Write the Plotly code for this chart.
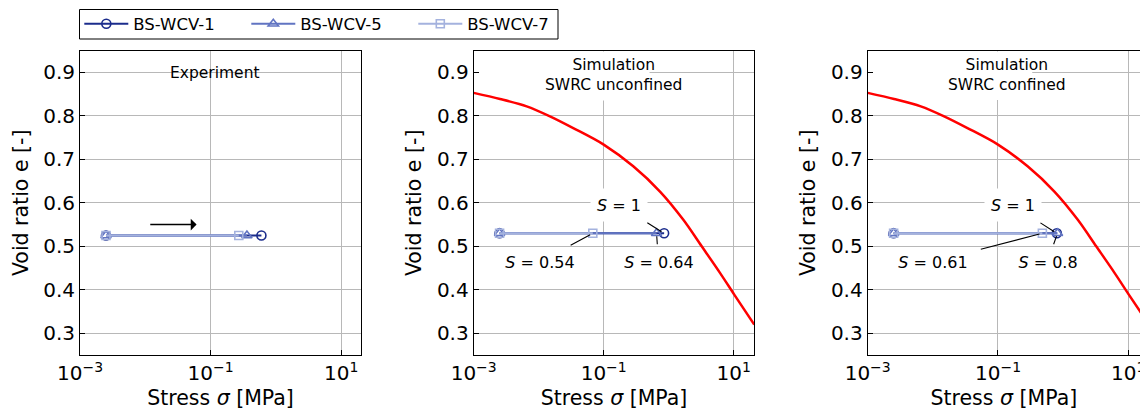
import numpy as np
import plotly.graph_objects as go

W, H = 1140, 410

# ---------------- data ----------------
series_names = ["BS-WCV-1", "BS-WCV-5", "BS-WCV-7"]
series_colors = ["#1b2c8c", "#6174c2", "#a4b2de"]
series_symbols = ["circle-open", "triangle-up-open", "square-open"]
series_marker_sizes = [9, 9, 8]

start_stress = 0.0025                     # MPa, common start of all paths
exp_end_stress = [0.60, 0.36, 0.27]       # experiment
exp_void = 0.525
unconf_end_stress = [0.85, 0.65, 0.068]   # simulation, SWRC unconfined
unconf_void = 0.53
conf_end_stress = [0.80, 0.82, 0.48]      # simulation, SWRC confined
conf_void = 0.53

curve_stress = [0.001, 0.00254, 0.00653, 0.0149, 0.034, 0.1, 0.285, 0.735,
                1.68, 3.22, 6.15, 10.2, 20.7]
curve_void = [0.853, 0.839, 0.822, 0.799, 0.772, 0.734, 0.684, 0.626,
              0.561, 0.500, 0.439, 0.389, 0.320]

arrow_stress = [0.0113, 0.061]
arrow_void = 0.55

unconf_labels = ["<i>S</i> = 1", "<i>S</i> = 0.64", "<i>S</i> = 0.54"]
conf_labels = ["<i>S</i> = 1", "<i>S</i> = 0.8", "<i>S</i> = 0.61"]
panel_titles = ["Experiment", "Simulation<br>SWRC unconfined", "Simulation<br>SWRC confined"]

x_tickvals = [1e-3, 1e-1, 1e1]
x_ticktext = ["10<sup>−3</sup>", "10<sup>−1</sup>", "10<sup>1</sup>"]
y_tickvals = [0.3, 0.4, 0.5, 0.6, 0.7, 0.8, 0.9]
y_range = [0.25, 0.95]

# ---------------- layout geometry ----------------
FONT = "DejaVu Sans"
px_dom = [(80, 361), (473.7, 754.3), (867.7, 1140)]
x_ranges = [[-3, 1.303], [-3, 1.317], [-3, 1.18]]
PY_TOP, PY_BOT = 50.7, 355
y_dom = [1 - PY_BOT / H, 1 - PY_TOP / H]


def px_to_xlog(p, px):
    dom, rng = px_dom[p], x_ranges[p]
    return rng[0] + (px - dom[0]) / (dom[1] - dom[0]) * (rng[1] - rng[0])


def py_to_y(py):
    return y_range[1] - (py - PY_TOP) / (PY_BOT - PY_TOP) * (y_range[1] - y_range[0])


fig = go.Figure()

panels = [
    (exp_end_stress, exp_void),
    (unconf_end_stress, unconf_void),
    (conf_end_stress, conf_void),
]

for p, (ends, void) in enumerate(panels):
    xa = "x" if p == 0 else f"x{p+1}"
    ya = "y" if p == 0 else f"y{p+1}"
    if p > 0:
        fig.add_trace(go.Scatter(
            x=curve_stress, y=curve_void, mode="lines",
            line=dict(color="red", width=2.5, shape="spline", smoothing=0.9),
            showlegend=False, xaxis=xa, yaxis=ya, hoverinfo="skip"))
    for i in range(3):
        fig.add_trace(go.Scatter(
            x=[start_stress, ends[i]], y=[void, void],
            mode="lines+markers", name=series_names[i],
            legendgroup=series_names[i], showlegend=(p == 0),
            line=dict(color=series_colors[i], width=2),
            marker=dict(symbol=series_symbols[i], size=series_marker_sizes[i],
                        color=series_colors[i], line=dict(width=1.6, color=series_colors[i])),
            xaxis=xa, yaxis=ya))

axis_common = dict(showline=True, linecolor="black", linewidth=1,
                   ticks="inside", tickcolor="black", ticklen=5,
                   showgrid=True, gridcolor="#b8b8b8", gridwidth=1,
                   zeroline=False, automargin=False,
                   tickfont=dict(family=FONT, size=20, color="black"))

shapes = [dict(type="rect", xref="paper", yref="paper",
               x0=79.5 / W, x1=558 / W, y0=1 - 39 / H, y1=1 - 9.5 / H,
               line=dict(color="black", width=1), fillcolor="rgba(0,0,0,0)",
               layer="above")]

layout = dict(
    width=W, height=H, margin=dict(l=0, r=0, t=0, b=0),
    paper_bgcolor="white", plot_bgcolor="white",
    font=dict(family=FONT, color="black"),
    showlegend=True,
    legend=dict(orientation="h", x=79.3 / W, y=1 - 6.5 / H,
                xanchor="left", yanchor="top",
                borderwidth=0, bgcolor="rgba(0,0,0,0)",
                font=dict(family=FONT, size=16.5, color="black"),
                itemwidth=44,
                entrywidth=108, entrywidthmode="pixels",
                tracegroupgap=0),
)

for p in range(3):
    xk = "xaxis" if p == 0 else f"xaxis{p+1}"
    yk = "yaxis" if p == 0 else f"yaxis{p+1}"
    xa = "x" if p == 0 else f"x{p+1}"
    ya = "y" if p == 0 else f"y{p+1}"
    layout[xk] = dict(axis_common, type="log", range=x_ranges[p],
                      domain=[px_dom[p][0] / W, px_dom[p][1] / W],
                      anchor=ya, mirror=True,
                      tickvals=x_tickvals, ticktext=x_ticktext,
                      ticklabeloverflow="allow",
                      title=dict(text="Stress <i>σ</i> [MPa]", standoff=7,
                                 font=dict(family=FONT, size=20.5, color="black")))
    layout[yk] = dict(axis_common, range=y_range, domain=y_dom,
                      anchor=xa, mirror=(p < 2),
                      tickvals=y_tickvals, tickformat=".1f",
                      title=dict(text="Void ratio e [-]", standoff=9,
                                 font=dict(family=FONT, size=20.5, color="black")))

ann = []
# panel titles: text centre (px) and white background box (px: x0, x1, ytop, ybottom)
title_pos = [(215, 73), (613, 74.5), (1006.7, 74.5)]
title_box = [(158, 270.7, 62, 83), (531.7, 701.7, 51.5, 100.5), (935, 1085, 51.5, 100)]
for p in range(3):
    xa = "x" if p == 0 else f"x{p+1}"
    ya = "y" if p == 0 else f"y{p+1}"
    cx, cy = title_pos[p]
    bx0, bx1, byt, byb = title_box[p]
    shapes.append(dict(type="rect", xref=xa, yref=ya,
                       x0=px_to_xlog(p, bx0), x1=px_to_xlog(p, bx1),
                       y0=py_to_y(byb), y1=py_to_y(byt),
                       fillcolor="white", line=dict(width=0), layer="between"))
    ann.append(dict(x=px_to_xlog(p, cx), y=py_to_y(cy), xref=xa, yref=ya,
                    text=panel_titles[p], showarrow=False,
                    font=dict(family=FONT, size=15.5, color="black")))

layout["shapes"] = shapes
fig.update_layout(**layout)

# arrow in experiment panel
ann.append(dict(x=np.log10(arrow_stress[1]), y=arrow_void,
                ax=np.log10(arrow_stress[0]), ay=arrow_void,
                xref="x", yref="y", axref="x", ayref="y", text="",
                showarrow=True, arrowhead=1, arrowsize=1.3, arrowwidth=1.5,
                arrowcolor="black"))

# saturation labels
label_offsets = {
    1: [(-45, -28, 56, 32, True), (2, 28.4, 90, 30, False), (-52.7, 28.4, 90, 30, False)],
    2: [(-44, -28, 56, 32, True), (-10, 28.4, 78, 30, False), (-109, 28.4, 90, 30, False)],
}
for p, labels, ends, void in [(1, unconf_labels, unconf_end_stress, unconf_void),
                              (2, conf_labels, conf_end_stress, conf_void)]:
    xa, ya = f"x{p+1}", f"y{p+1}"
    for i in range(3):
        axp, ayp, bw, bh, bg = label_offsets[p][i]
        ann.append(dict(x=np.log10(ends[i]), y=void, xref=xa, yref=ya,
                        ax=axp, ay=ayp, text=labels[i], showarrow=True,
                        arrowhead=0, arrowwidth=1.1, arrowcolor="black",
                        standoff=3, startstandoff=2,
                        font=dict(family=FONT, size=16, color="black"),
                        bgcolor="white" if bg else "rgba(0,0,0,0)",
                        width=bw, height=bh, borderpad=0))

fig.update_layout(annotations=ann)

fig.write_html("out.html")
